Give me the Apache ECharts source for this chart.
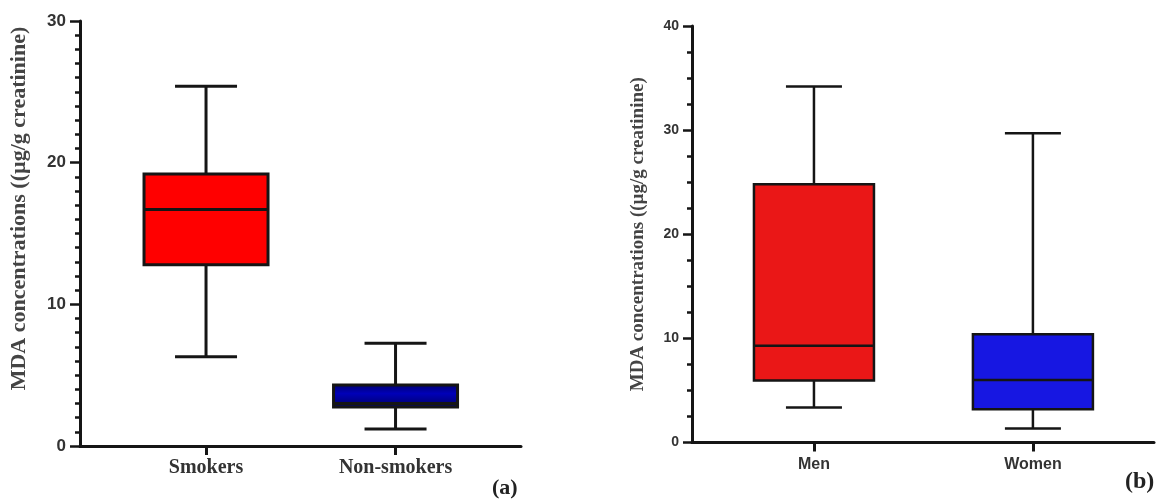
<!DOCTYPE html>
<html>
<head>
<meta charset="utf-8">
<script src="https://cdn.jsdelivr.net/npm/echarts@6/dist/echarts.min.js"></script>
<style>
html, body { margin: 0; background: #fff; }
#main { width: 1162px; height: 501px; }
</style>
</head>
<body>
<div id="main"></div>
<script>
// (a) smokers vs non-smokers
var groupsA = ['Smokers', 'Non-smokers'];
var minA = [6.3, 1.2];
var q1A = [12.8, 2.75];
var medA = [16.7, 3.0];
var q3A = [19.2, 4.3];
var maxA = [25.4, 7.25];

// (b) men vs women
var groupsB = ['Men', 'Women'];
var minB = [3.35, 1.35];
var q1B = [5.95, 3.2];
var medB = [9.3, 6.0];
var q3B = [24.8, 10.4];
var maxB = [34.2, 29.7];

var yTitle = 'MDA concentrations ((µg/g creatinine)';

function toRows(mn, q1, md, q3, mx) {
    return mn.map(function (v, i) {
        return [i, mn[i], q1[i], md[i], q3[i], mx[i]];
    });
}

// box + whiskers drawn through api.coord, caps narrower than box
function boxRenderer(boxW, capW, lw, fills) {
    return function (params, api) {
        var x = api.value(0);
        var pMin = api.coord([x, api.value(1)]);
        var pQ1 = api.coord([x, api.value(2)]);
        var pMed = api.coord([x, api.value(3)]);
        var pQ3 = api.coord([x, api.value(4)]);
        var pMax = api.coord([x, api.value(5)]);
        var cx = pMin[0];
        var st = { stroke: '#151515', lineWidth: lw };
        return {
            type: 'group',
            children: [
                { type: 'line', shape: { x1: cx, y1: pMax[1], x2: cx, y2: pQ3[1] }, style: st },
                { type: 'line', shape: { x1: cx, y1: pQ1[1], x2: cx, y2: pMin[1] }, style: st },
                { type: 'line', shape: { x1: cx - capW / 2, y1: pMax[1], x2: cx + capW / 2, y2: pMax[1] }, style: st },
                { type: 'line', shape: { x1: cx - capW / 2, y1: pMin[1], x2: cx + capW / 2, y2: pMin[1] }, style: st },
                {
                    type: 'rect',
                    shape: { x: cx - boxW / 2, y: pQ3[1], width: boxW, height: pQ1[1] - pQ3[1] },
                    style: { fill: fills[params.dataIndex], stroke: '#151515', lineWidth: lw }
                },
                { type: 'line', shape: { x1: cx - boxW / 2, y1: pMed[1], x2: cx + boxW / 2, y2: pMed[1] }, style: st }
            ]
        };
    };
}

var axisLineStyle = { color: '#151515', width: 3 };

function catAxis(grid, mn, mx, names, labelStyle) {
    return {
        gridIndex: grid,
        type: 'value',
        min: mn,
        max: mx,
        splitLine: { show: false },
        axisLine: { show: true, onZero: false, lineStyle: axisLineStyle },
        axisTick: { show: true, customValues: [0, 1], length: 9, lineStyle: { color: '#151515', width: 3 } },
        axisLabel: Object.assign({
            customValues: [0, 1],
            color: '#333',
            fontWeight: 'bold',
            formatter: function (v) { return names[Math.round(v)]; }
        }, labelStyle)
    };
}

var navy = new echarts.graphic.LinearGradient(0, 0, 0, 1, [
    { offset: 0, color: '#00006a' },
    { offset: 0.4, color: '#0000b8' },
    { offset: 1, color: '#000060' }
]);

var chart = echarts.init(document.getElementById('main'));
var option = {
    animation: false,
    grid: [
        { left: 80, top: 21, width: 441, height: 425 },
        { left: 692, top: 26, width: 462, height: 416.5 }
    ],
    xAxis: [
        catAxis(0, -0.665, 1.662, groupsA, { fontFamily: 'Liberation Serif', fontSize: 20, margin: 12 }),
        catAxis(1, -0.557, 1.553, groupsB, { fontFamily: 'Liberation Sans', fontSize: 16, margin: 14 })
    ],
    yAxis: [
        {
            gridIndex: 0,
            type: 'value',
            min: 0, max: 30, interval: 10,
            name: yTitle,
            nameLocation: 'middle',
            nameRotate: 90,
            nameGap: 50,
            nameTextStyle: { fontFamily: 'Liberation Serif', fontWeight: 'bold', fontSize: 22, color: '#444', padding: [0, 0, 0, 50] },
            axisLine: { show: true, onZero: false, lineStyle: axisLineStyle },
            axisTick: { show: true, length: 10, lineStyle: { color: '#151515', width: 2.5 } },
            minorTick: { show: true, splitNumber: 10, length: 5, lineStyle: { color: '#151515', width: 2.5 } },
            splitLine: { show: false },
            minorSplitLine: { show: false },
            axisLabel: { fontFamily: 'Liberation Sans', fontWeight: 'bold', fontSize: 17, color: '#333', margin: 14 }
        },
        {
            gridIndex: 1,
            type: 'value',
            min: 0, max: 40, interval: 10,
            name: yTitle,
            nameLocation: 'middle',
            nameRotate: 90,
            nameGap: 44,
            nameTextStyle: { fontFamily: 'Liberation Serif', fontWeight: 'bold', fontSize: 19, color: '#444' },
            axisLine: { show: true, onZero: false, lineStyle: axisLineStyle },
            axisTick: { show: true, length: 9, lineStyle: { color: '#151515', width: 2.5 } },
            minorTick: { show: true, splitNumber: 4, length: 5, lineStyle: { color: '#151515', width: 2.5 } },
            splitLine: { show: false },
            minorSplitLine: { show: false },
            axisLabel: { fontFamily: 'Liberation Sans', fontWeight: 'bold', fontSize: 14, color: '#333', margin: 13 }
        }
    ],
    series: [
        {
            type: 'custom',
            xAxisIndex: 0, yAxisIndex: 0,
            renderItem: boxRenderer(124, 62, 3, ['#ff0000', navy]),
            encode: { x: 0, y: [1, 2, 3, 4, 5] },
            data: toRows(minA, q1A, medA, q3A, maxA)
        },
        {
            type: 'custom',
            xAxisIndex: 1, yAxisIndex: 1,
            renderItem: boxRenderer(120, 56, 2.5, ['#ea1717', '#1717e2']),
            encode: { x: 0, y: [1, 2, 3, 4, 5] },
            data: toRows(minB, q1B, medB, q3B, maxB)
        }
    ],
    graphic: [
        { type: 'text', left: 492, top: 477, style: { text: '(a)', font: 'bold 22px "Liberation Serif"', fill: '#222' } },
        { type: 'text', left: 1125, top: 470, style: { text: '(b)', font: 'bold 24px "Liberation Serif"', fill: '#222' } }
    ]
};
chart.setOption(option);
</script>
</body>
</html>
